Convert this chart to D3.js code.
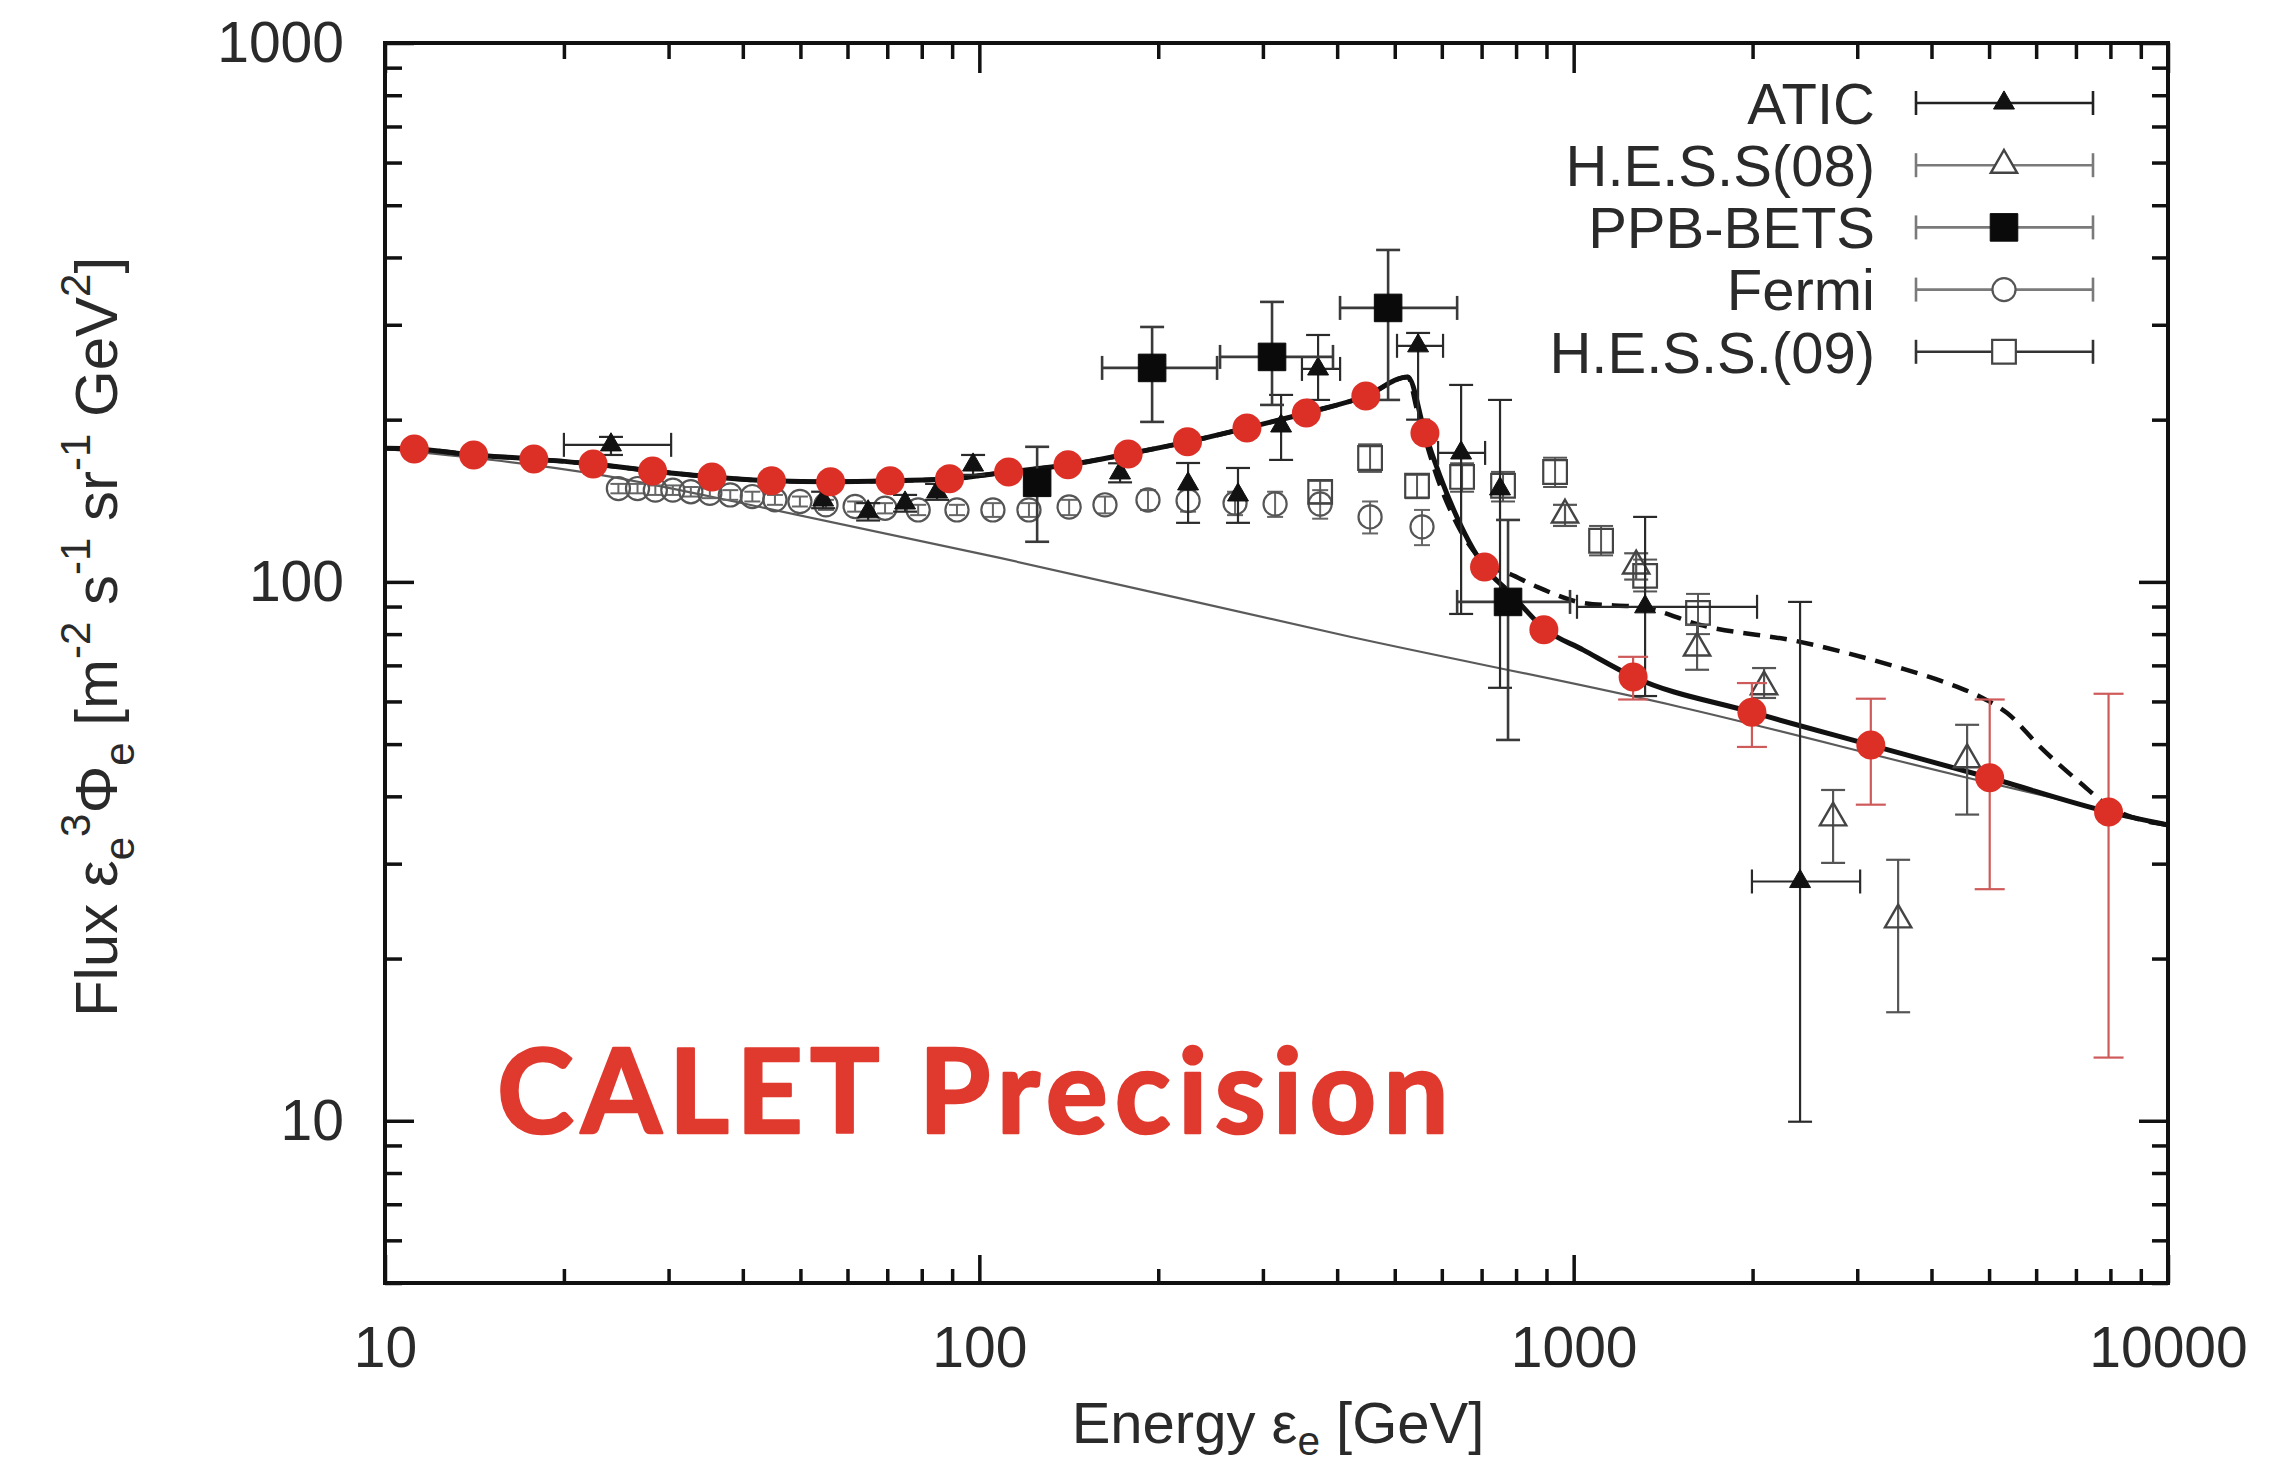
<!DOCTYPE html>
<html>
<head>
<meta charset="utf-8">
<script src="https://cdn.jsdelivr.net/npm/d3@7"></script>
<style>
  html, body { margin: 0; padding: 0; background: #ffffff; }
  svg { display: block; }
</style>
</head>
<body>
<svg id="chart" width="2294" height="1467"></svg>
<script>
// ---------------------------------------------------------------
// Electron spectrum E^3 x flux  [m^-2 s^-1 sr^-1 GeV^2] vs energy [GeV]
// ---------------------------------------------------------------

// CALET expected points: [E, F, Flow, Fhigh]  (errors only where larger than marker)
const caletPoints = [
  [11.2, 176.5], [14.1, 172], [17.8, 169], [22.4, 165.5], [28.2, 160.6],
  [35.5, 156.6], [44.7, 154], [56.2, 153.4], [70.8, 154], [89.1, 155.3],
  [112, 160], [141, 164.9], [178, 172.8], [224, 181.9], [282, 193.1],
  [355, 205.8], [447, 221.3], [562, 189], [708, 106.6], [891, 81.5],
  [1259, 66.6, 60.5, 72.6], [1995, 57.3, 49.4, 64.9], [3162, 49.8, 38.6, 60.7],
  [5012, 43.3, 26.9, 60.5], [7943, 37.4, 13.1, 62]
];

// ATIC: [E, F, Flow, Fhigh, Elow, Ehigh]
const aticPoints = [
  [24.0, 179.6, 172.0, 185.8, 20, 30.3],
  [54.6, 141.9, 137, 147], [65.0, 134.9, 130, 140], [75.0, 140.1, 135, 145],
  [84.9, 146.9, 142, 152], [97.6, 164.8, 158, 172], [172.5, 159.3, 153, 166],
  [224.5, 152.0, 128.7, 166.2], [272.4, 145.0, 128.7, 162.7],
  [321.9, 194.7, 168.4, 222.3], [371.5, 248.4, 217.6, 287.2, 349, 404.6],
  [547.3, 274.2, 200, 289.7, 504.4, 602.9], [646.6, 173.5, 87.2, 232, 591.4, 709.6],
  [751.8, 148.8, 63.6, 217.6], [1318.8, 89.9, 61.4, 132, 1013, 2035],
  [2404, 27.8, 9.96, 91.8, 1995, 3034]
];

// H.E.S.S. 2008: [E, F, Flow, Fhigh]
const hess08Points = [
  [967, 133.1, 127, 139], [1274, 107.1, 101, 113], [1613, 75.4, 68.7, 83.2],
  [2091, 63.9, 60.9, 69.2], [2732, 36.5, 30.1, 41.1], [3515, 23.6, 15.9, 30.5],
  [4592, 46.8, 37.0, 54.3]
];

// PPB-BETS: [E, F, Flow, Fhigh, Elow, Ehigh]
const ppbPoints = [
  [125.1, 152.7, 118.7, 178.1],
  [195.3, 249.5, 198.1, 297.2, 160.9, 251.2],
  [310.8, 261.5, 213.0, 330.8, 254.1, 393.6],
  [487.3, 322.4, 217.6, 413.0, 404.5, 636.7],
  [775.5, 91.8, 50.9, 130.3, 636.7, 986]
];

// Fermi-LAT: [E, F, Flow, Fhigh]
const fermiPoints = [
  [24.7, 149, 146, 152], [26.6, 149, 146, 152], [28.5, 148, 145, 151],
  [30.5, 148, 145, 151], [32.7, 147, 144, 150], [35.2, 146, 143, 149],
  [38.1, 145, 142, 148], [41.5, 144, 141, 147], [45.3, 142, 139, 145],
  [49.9, 141, 138, 144], [55.2, 139, 136, 142], [61.8, 138, 135, 141],
  [69.4, 137, 134, 140], [78.9, 136, 133, 139], [91.7, 136, 133, 139],
  [105.4, 136, 132, 140], [121.2, 136, 132, 140], [141.6, 137.7, 133, 142],
  [162.7, 139, 134, 144], [192.2, 141.9, 136, 148], [224.5, 141.5, 135, 148],
  [269.3, 140, 133, 147], [314.5, 139.5, 132, 147], [374.5, 139.5, 131, 148],
  [454.4, 132, 123, 141], [555.7, 126.5, 117, 136]
];

// H.E.S.S. 2009: [E, F, Flow, Fhigh]
const hess09Points = [
  [374.5, 146.9, 140, 154], [454.4, 169.8, 160, 180], [545.1, 150.8, 143, 158],
  [649, 156.6, 147, 166], [760.6, 150.8, 141, 160], [930.5, 159.9, 150, 170],
  [1112, 119.2, 112, 127], [1319, 102.6, 96, 110], [1619, 87.6, 80, 95]
];

// Model curves: [E, F]
const modelRise = [
  [10, 177], [11.2, 176.5], [14.1, 172], [17.8, 169], [22.4, 165.5], [28.2, 160.6],
  [35.5, 156.6], [44.7, 154], [56.2, 153.4], [70.8, 154], [89.1, 155.3], [112, 160],
  [141, 164.9], [178, 172.8], [224, 181.9], [282, 193.1], [355, 205.8], [447, 221.3],
  [526, 240]
];
const modelSolidTail = [
  [562, 189], [708, 106.6], [782, 95.4], [891, 82], [1037, 74.8], [1259, 66.7],
  [1995, 57.3], [3162, 49.8], [5012, 43.3], [7943, 37.4], [10000, 35.4]
];
const modelDashedTail = [
  [545, 208.5], [589, 156.6], [644, 124.9], [723, 106.6], [773, 103.9], [868, 97.9],
  [1037, 91.4], [1319, 89.5], [1632, 83.2], [2404, 77.4], [3501, 69.5], [4249, 64.9],
  [4830, 61.2], [5362, 57.1], [6093, 49.4], [7114, 42.4], [7990, 38.2], [10000, 35.4]
];
const backgroundCurve = [
  [10, 176.5], [23, 158], [42.8, 137.7], [108.3, 110.8], [420.5, 79.1],
  [1510, 58.6], [4521, 43.5], [10000, 35.4]
];

// Axis ticks
const xMajorTicks = [10, 100, 1000, 10000];
const xMinorTicks = [20, 30, 40, 50, 60, 70, 80, 90, 200, 300, 400, 500, 600, 700, 800, 900,
                     2000, 3000, 4000, 5000, 6000, 7000, 8000, 9000];
const yMajorTicks = [10, 100, 1000];
const yMinorTicks = [5, 6, 7, 8, 9, 20, 30, 40, 50, 60, 70, 80, 90, 200, 300, 400, 500, 600, 700, 800, 900];

const legendLabels = ["ATIC", "H.E.S.S(08)", "PPB-BETS", "Fermi", "H.E.S.S.(09)"];

// ---------------------------------------------------------------
const plot = { left: 385, right: 2168, top: 43, bottom: 1283 };
const FONT = "'Liberation Sans', Arial, Helvetica, sans-serif";
const TEXT = "#2a2a2a";

const x = d3.scaleLog().domain([10, 10000]).range([plot.left, plot.right]);
const y = d3.scaleLog().domain([5, 1000]).range([plot.bottom, plot.top]);

const svg = d3.select("#chart");
svg.append("rect").attr("width", 2294).attr("height", 1467).attr("fill", "#fff");

// series styles
const styles = {
  atic:   { symbol: d3.symbolTriangle, size: 190, fill: "#111", stroke: "#111", sw: 1,   err: "#2a2a2a", ew: 2.2 },
  hess08: { symbol: d3.symbolTriangle, size: 300, fill: "none", stroke: "#444", sw: 2.4, err: "#555",    ew: 2.2 },
  ppb:    { symbol: d3.symbolSquare,   size: 760, fill: "#0a0a0a", stroke: "#0a0a0a", sw: 1, err: "#3a3a3a", ew: 2.6 },
  fermi:  { symbol: d3.symbolCircle,   size: 420, fill: "none", stroke: "#555", sw: 2.2, err: "#666",    ew: 2 },
  hess09: { symbol: d3.symbolSquare,   size: 560, fill: "none", stroke: "#444", sw: 2.2, err: "#555",    ew: 2 }
};

// ---------------- curves ----------------
const line = d3.line().x(d => x(d[0])).y(d => y(d[1])).curve(d3.curveMonotoneX);
const gCurves = svg.append("g").attr("fill", "none");

gCurves.append("path").datum(backgroundCurve)
  .attr("d", line).attr("stroke", "#5a5a5a").attr("stroke-width", 2.2);

gCurves.append("path").datum(modelRise.concat(modelDashedTail))
  .attr("d", line).attr("stroke", "#111").attr("stroke-width", 4.5)
  .attr("stroke-dasharray", "17,10");

gCurves.append("path").datum(modelRise.concat(modelSolidTail))
  .attr("d", line).attr("stroke", "#111").attr("stroke-width", 5)
  .attr("stroke-linejoin", "round");

// ---------------- error bars + markers ----------------
const CAP = 12;
function drawSeries(rows, st, cap) {
  const g = svg.append("g");
  const eb = g.append("g").attr("stroke", st.err).attr("stroke-width", st.ew).attr("fill", "none");
  const withY = rows.filter(r => r[2] != null);
  eb.selectAll(".vy").data(withY).join("line")
    .attr("x1", r => x(r[0])).attr("x2", r => x(r[0]))
    .attr("y1", r => y(r[2])).attr("y2", r => y(r[3]));
  eb.selectAll(".cl").data(withY).join("line")
    .attr("x1", r => x(r[0]) - cap).attr("x2", r => x(r[0]) + cap)
    .attr("y1", r => y(r[2])).attr("y2", r => y(r[2]));
  eb.selectAll(".ch").data(withY).join("line")
    .attr("x1", r => x(r[0]) - cap).attr("x2", r => x(r[0]) + cap)
    .attr("y1", r => y(r[3])).attr("y2", r => y(r[3]));
  const withX = rows.filter(r => r[4] != null);
  eb.selectAll(".hx").data(withX).join("line")
    .attr("x1", r => x(r[4])).attr("x2", r => x(r[5]))
    .attr("y1", r => y(r[1])).attr("y2", r => y(r[1]));
  eb.selectAll(".xl").data(withX).join("line")
    .attr("x1", r => x(r[4])).attr("x2", r => x(r[4]))
    .attr("y1", r => y(r[1]) - cap).attr("y2", r => y(r[1]) + cap);
  eb.selectAll(".xh").data(withX).join("line")
    .attr("x1", r => x(r[5])).attr("x2", r => x(r[5]))
    .attr("y1", r => y(r[1]) - cap).attr("y2", r => y(r[1]) + cap);
  g.selectAll("path.m").data(rows).join("path")
    .attr("class", "m")
    .attr("transform", r => `translate(${x(r[0])},${y(r[1])})`)
    .attr("d", d3.symbol().type(st.symbol).size(st.size))
    .attr("fill", st.fill).attr("stroke", st.stroke).attr("stroke-width", st.sw);
}

drawSeries(fermiPoints, styles.fermi, 8);
drawSeries(hess09Points, styles.hess09, CAP);
drawSeries(hess08Points, styles.hess08, CAP);
drawSeries(aticPoints, styles.atic, CAP);
drawSeries(ppbPoints, styles.ppb, CAP);

// CALET points on top
const gCal = svg.append("g");
const calErr = caletPoints.filter(r => r[2] != null);
const ce = gCal.append("g").attr("stroke", "#cf5a5a").attr("stroke-width", 2.2);
ce.selectAll(".v").data(calErr).join("line")
  .attr("x1", r => x(r[0])).attr("x2", r => x(r[0]))
  .attr("y1", r => y(r[2])).attr("y2", r => y(r[3]));
ce.selectAll(".a").data(calErr).join("line")
  .attr("x1", r => x(r[0]) - 15).attr("x2", r => x(r[0]) + 15)
  .attr("y1", r => y(r[2])).attr("y2", r => y(r[2]));
ce.selectAll(".b").data(calErr).join("line")
  .attr("x1", r => x(r[0]) - 15).attr("x2", r => x(r[0]) + 15)
  .attr("y1", r => y(r[3])).attr("y2", r => y(r[3]));
gCal.selectAll("circle").data(caletPoints).join("circle")
  .attr("cx", r => x(r[0])).attr("cy", r => y(r[1])).attr("r", 14.5)
  .attr("fill", "#dc2f26");

// ---------------- axes ----------------
function styleAxis(g, fontSize) {
  g.select(".domain").remove();
  g.selectAll(".tick line").attr("stroke", "#111").attr("stroke-width", 3.5);
  g.selectAll(".tick text").attr("fill", TEXT).attr("font-size", fontSize).attr("font-family", FONT);
}
const fmt = d3.format("d");
const axes = svg.append("g");
axes.append("g").attr("transform", `translate(0,${plot.bottom})`)
  .call(d3.axisBottom(x).tickValues(xMajorTicks).tickSize(-28).tickPadding(44).tickFormat(fmt))
  .call(g => styleAxis(g, 57));
axes.append("g").attr("transform", `translate(0,${plot.bottom})`)
  .call(d3.axisBottom(x).tickValues(xMinorTicks).tickSize(-14).tickFormat(""))
  .call(g => styleAxis(g, 0));
axes.append("g").attr("transform", `translate(0,${plot.top})`)
  .call(d3.axisTop(x).tickValues(xMajorTicks).tickSize(-30).tickFormat(""))
  .call(g => styleAxis(g, 0));
axes.append("g").attr("transform", `translate(0,${plot.top})`)
  .call(d3.axisTop(x).tickValues(xMinorTicks).tickSize(-16).tickFormat(""))
  .call(g => styleAxis(g, 0));
axes.append("g").attr("transform", `translate(${plot.left},0)`)
  .call(d3.axisLeft(y).tickValues(yMajorTicks).tickSize(-29).tickPadding(41).tickFormat(fmt))
  .call(g => styleAxis(g, 57));
axes.append("g").attr("transform", `translate(${plot.left},0)`)
  .call(d3.axisLeft(y).tickValues(yMinorTicks).tickSize(-17).tickFormat(""))
  .call(g => styleAxis(g, 0));
axes.append("g").attr("transform", `translate(${plot.right},0)`)
  .call(d3.axisRight(y).tickValues(yMajorTicks).tickSize(-29).tickFormat(""))
  .call(g => styleAxis(g, 0));
axes.append("g").attr("transform", `translate(${plot.right},0)`)
  .call(d3.axisRight(y).tickValues(yMinorTicks).tickSize(-16).tickFormat(""))
  .call(g => styleAxis(g, 0));

svg.append("rect")
  .attr("x", plot.left).attr("y", plot.top)
  .attr("width", plot.right - plot.left).attr("height", plot.bottom - plot.top)
  .attr("fill", "none").attr("stroke", "#111").attr("stroke-width", 4);

// ---------------- axis titles ----------------
function richText(textSel, parts, fs, subShift) {
  const sub = subShift * fs, sup = -0.45 * fs;
  let cur = 0;
  parts.forEach(p => {
    const target = p.k === "sub" ? sub : p.k === "sup" ? sup : 0;
    textSel.append("tspan").text(p.t)
      .attr("dy", target - cur)
      .attr("font-size", p.k ? fs * 0.7 : fs);
    cur = target;
  });
}

const yTitle = svg.append("text")
  .attr("transform", "translate(117,637) rotate(-90)")
  .attr("text-anchor", "middle").attr("font-family", FONT).attr("fill", TEXT)
  .attr("font-size", 60);
richText(yTitle, [
  { t: "Flux ε" }, { t: "e", k: "sub" }, { t: "3", k: "sup" }, { t: "Φ" }, { t: "e", k: "sub" },
  { t: " [m" }, { t: "-2", k: "sup" }, { t: " s" }, { t: "-1", k: "sup" }, { t: " sr" },
  { t: "-1", k: "sup" }, { t: " GeV" }, { t: "2", k: "sup" }, { t: "]" }
], 60, 0.28);

const xTitle = svg.append("text")
  .attr("x", 1278).attr("y", 1443)
  .attr("text-anchor", "middle").attr("font-family", FONT).attr("fill", TEXT)
  .attr("font-size", 58);
richText(xTitle, [{ t: "Energy ε" }, { t: "e", k: "sub" }, { t: " [GeV]" }], 58, 0.2);

// ---------------- legend ----------------
const legendStyles = [styles.atic, styles.hess08, styles.ppb, styles.fermi, styles.hess09];
const legendLine = ["#222", "#7a7a7a", "#7a7a7a", "#7a7a7a", "#333"];
const leg = svg.append("g");
const rows = leg.selectAll("g").data(legendLabels).join("g")
  .attr("transform", (d, i) => `translate(0,${103 + i * 62.2})`);
rows.append("text").text(d => d)
  .attr("x", 1875).attr("y", 0).attr("dy", "0.36em")
  .attr("text-anchor", "end").attr("font-family", FONT).attr("font-size", 58).attr("fill", TEXT);
rows.append("line").attr("x1", 1916).attr("x2", 2093).attr("y1", 0).attr("y2", 0)
  .attr("stroke", (d, i) => legendLine[i]).attr("stroke-width", 2.6);
rows.append("line").attr("x1", 1916).attr("x2", 1916).attr("y1", -12).attr("y2", 12)
  .attr("stroke", (d, i) => legendLine[i]).attr("stroke-width", 2.6);
rows.append("line").attr("x1", 2093).attr("x2", 2093).attr("y1", -12).attr("y2", 12)
  .attr("stroke", (d, i) => legendLine[i]).attr("stroke-width", 2.6);
rows.append("path")
  .attr("transform", "translate(2004,0)")
  .attr("d", (d, i) => d3.symbol().type(legendStyles[i].symbol).size(legendStyles[i].size)())
  .attr("fill", (d, i) => legendStyles[i].fill === "none" ? "#fff" : legendStyles[i].fill)
  .attr("stroke", (d, i) => legendStyles[i].stroke)
  .attr("stroke-width", (d, i) => legendStyles[i].sw);

// ---------------- annotation ----------------
const calet = svg.append("text")
  .attr("x", 497).attr("y", 1133)
  .attr("font-family", "Lato, 'Open Sans', sans-serif").attr("font-weight", 700)
  .attr("font-size", 116).attr("fill", "#e0392e")
  .attr("stroke", "#e0392e").attr("stroke-width", 2.5).attr("stroke-linejoin", "round")
  .text("CALET Precision");
const natural = calet.node().getComputedTextLength();
const spacing = Math.max(-4, Math.min(12, (959 - natural) / 15));
calet.attr("letter-spacing", spacing);
</script>
</body>
</html>
